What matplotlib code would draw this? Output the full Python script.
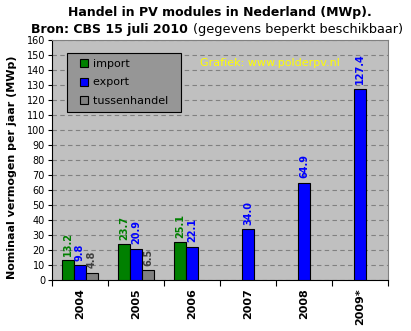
import numpy as np
import matplotlib.pyplot as plt
from matplotlib.lines import Line2D

plt.rcParams['font.family'] = ['DejaVu Sans']

# handel in PV modules, MWp per jaar (CBS)
jaren = ['2004', '2005', '2006', '2007', '2008', '2009*']
import_mwp = [13.2, 23.7, 25.1, None, None, None]
export_mwp = [9.8, 20.9, 22.1, 34.0, 64.9, 127.4]
tussen_mwp = [4.8, 6.5, None, None, None, None]

series = [
    ('import', import_mwp, '#008000', '#008000', -0.215),
    ('export', export_mwp, '#0000FF', '#0000FF', 0.0),
    ('tussenhandel', tussen_mwp, '#808080', '#404040', 0.215),
]

fig = plt.figure(figsize=(4.11, 3.31), dpi=100)
ax = fig.add_axes([0.1265, 0.154, 0.8175, 0.725])
ax.set_facecolor('#C0C0C0')

x = np.arange(len(jaren))
w = 0.21
handles = []
for naam, vals, kleur, lblkleur, off in series:
    xs = [x[i] + off for i, v in enumerate(vals) if v is not None]
    ys = [v for v in vals if v is not None]
    ax.bar(xs, ys, w, color=kleur, edgecolor='black', linewidth=0.8, zorder=3)
    for xi, yi in zip(xs, ys):
        ax.text(xi, yi + 3, f'{yi:.1f}', rotation=90, ha='center', va='bottom',
                fontsize=7, fontweight='bold', color=lblkleur, zorder=4)
    handles.append(Line2D([], [], linestyle='none', marker='s', markersize=5.5,
                          markerfacecolor=kleur, markeredgecolor='black',
                          markeredgewidth=0.8, label=naam + '  '))

ax.set_xlim(-0.5, len(jaren) - 0.5)
ax.set_ylim(0, 160)
ax.set_yticks(np.arange(0, 161, 10))
ax.tick_params(axis='y', labelsize=7, length=3, pad=2)
ax.yaxis.grid(True, linestyle=(0, (4, 3)), color='#808080', linewidth=0.8, zorder=1)

# jaartallen tussen de scheidingsstreepjes
ax.set_xticks(np.arange(-0.5, len(jaren), 1))
ax.set_xticklabels([])
ax.set_xticks(x, minor=True)
ax.set_xticklabels(jaren, minor=True, rotation=90, fontsize=8, fontweight='bold')
ax.tick_params(axis='x', which='major', length=4)
ax.tick_params(axis='x', which='minor', length=0, pad=6)

for s in ['top', 'right']:
    ax.spines[s].set_color('#808080')
for s in ['left', 'bottom']:
    ax.spines[s].set_color('black')

ax.set_ylabel('Nominaal vermogen per jaar (MWp)', fontsize=8, fontweight='bold')
ax.yaxis.set_label_coords(-0.105, 0.47)

leg = ax.legend(handles=handles, loc='upper left', bbox_to_anchor=(0.045, 0.946),
                fontsize=8, facecolor='#969696', edgecolor='black', framealpha=1,
                fancybox=False, numpoints=1, handlelength=1.9, handletextpad=-0.15,
                labelspacing=0.75, borderpad=0.55, borderaxespad=0)
leg.get_frame().set_linewidth(0.8)

ax.text(0.44, 144.5, 'Grafiek: www.polderpv.nl', transform=ax.get_yaxis_transform(),
        color='#FFFF00', fontsize=8, va='center', ha='left')

fig.text(0.535, 0.963, 'Handel in PV modules in Nederland (MWp).', ha='center',
         va='center', fontsize=9, fontweight='bold')
t = fig.text(0.075, 0.912, 'Bron: CBS 15 juli 2010', ha='left', va='center',
             fontsize=9, fontweight='bold')
fig.canvas.draw()
bb = t.get_window_extent()
x1 = bb.x1 / fig.bbox.width
fig.text(x1 + 0.012, 0.912, '(gegevens beperkt beschikbaar)', ha='left', va='center',
         fontsize=9.3)

fig.savefig('out.png', dpi=100)
